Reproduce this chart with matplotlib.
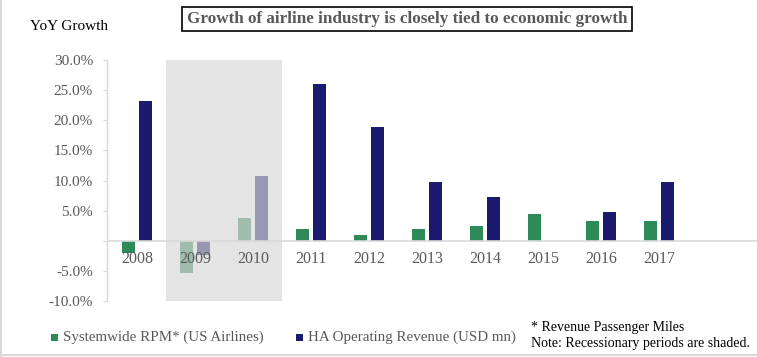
import numpy as np
import matplotlib
matplotlib.use("Agg")
import matplotlib.pyplot as plt
from matplotlib.patches import Rectangle
from matplotlib.lines import Line2D

# ------------------------------------------------------------
# data (YoY growth, %)
# ------------------------------------------------------------
years = ["2008", "2009", "2010", "2011", "2012",
         "2013", "2014", "2015", "2016", "2017"]
rpm_growth = [-2.1, -5.4, 3.7, 2.0, 1.0, 2.0, 2.5, 4.5, 3.3, 3.2]
ha_revenue_growth = [23.2, -2.3, 10.7, 26.0, 18.8, 9.8, 7.3, np.nan, 4.8, 9.8]
recession_years = ["2009", "2010"]
y_ticks = [30, 25, 20, 15, 10, 5, 0, -5, -10]
series_names = ["Systemwide RPM* (US Airlines)", "HA Operating Revenue (USD mn)"]

GREEN = "#2e8b57"
NAVY = "#1b1a6e"
GREY_TXT = "#595959"
AXIS_GREY = "#d9d9d9"
FONT = "Liberation Serif"

plt.rcParams["font.family"] = FONT

W, H = 757, 357
fig = plt.figure(figsize=(W / 100, H / 100), dpi=100)

# axes placed in pixel terms
left, right, top, bottom = 107, 757, 60, 301
ax = fig.add_axes([left / W, 1 - bottom / H, (right - left) / W, (bottom - top) / H])

x = np.arange(len(years))
bw = 0.225
off = 0.147

ax.bar(x - off, rpm_growth, width=bw, color=GREEN, zorder=2)
ax.bar(x + off, ha_revenue_growth, width=bw, color=NAVY, zorder=2)

# shaded recession period, drawn over the bars so they look faded
idx = [years.index(y) for y in recession_years]
ax.add_patch(Rectangle((min(idx) - 0.5, -10), len(idx), 40,
                       facecolor="#d7d7d7", alpha=0.67,
                       edgecolor="none", zorder=3))

ax.axhline(0, color=AXIS_GREY, lw=1.2, zorder=4)

ax.set_xlim(-0.52, -0.52 + (right - left) / 58)
ax.set_ylim(-10, 30)

for s in ["top", "right", "bottom"]:
    ax.spines[s].set_visible(False)
ax.spines["left"].set_color(AXIS_GREY)
ax.spines["left"].set_linewidth(1.0)

ax.set_yticks(y_ticks)
ax.set_yticklabels(["" if v == 0 else f"{v:.1f}%" for v in y_ticks])
ax.tick_params(axis="y", length=3, color=AXIS_GREY, labelcolor=GREY_TXT,
               labelsize=11, pad=7)
ax.set_xticks([])

for i, yr in enumerate(years):
    ax.annotate(yr, xy=(i, 0), xytext=(0, -13), textcoords="offset points",
                ha="center", va="center", fontsize=11.5, color=GREY_TXT,
                zorder=5)

# headings
fig.text(30 / W, 1 - 26 / H, "YoY Growth", fontsize=11, color="black",
         va="center", ha="left")
fig.text(407 / W, 1 - 19 / H,
         "Growth of airline industry is closely tied to economic growth",
         fontsize=12.3, fontweight="bold", color=GREY_TXT,
         ha="center", va="center",
         bbox=dict(boxstyle="square,pad=0.25", facecolor="white",
                   edgecolor="black", linewidth=1.2))

# legend, placed by hand
for colour, name, sx in zip([GREEN, NAVY], series_names, [51, 296]):
    fig.add_artist(Rectangle((sx / W, 1 - 341 / H), 7 / W, 7 / H,
                             facecolor=colour, edgecolor="none",
                             transform=fig.transFigure))
    fig.text((sx + 12) / W, 1 - 337 / H, name, fontsize=10.8,
             color=GREY_TXT, va="center", ha="left")

fig.text(531 / W, 1 - 328 / H, "* Revenue Passenger Miles",
         fontsize=10, color="black", va="center")
fig.text(531 / W, 1 - 344 / H, "Note: Recessionary periods are shaded.",
         fontsize=10, color="black", va="center")

# outer frame lines (left and bottom)
fig.add_artist(Line2D([1 / W, 1 / W], [0, 1], color=AXIS_GREY, lw=1.5))
fig.add_artist(Line2D([0, 1], [2 / H, 2 / H], color=AXIS_GREY, lw=1.5))

fig.savefig("out.png", dpi=100)
